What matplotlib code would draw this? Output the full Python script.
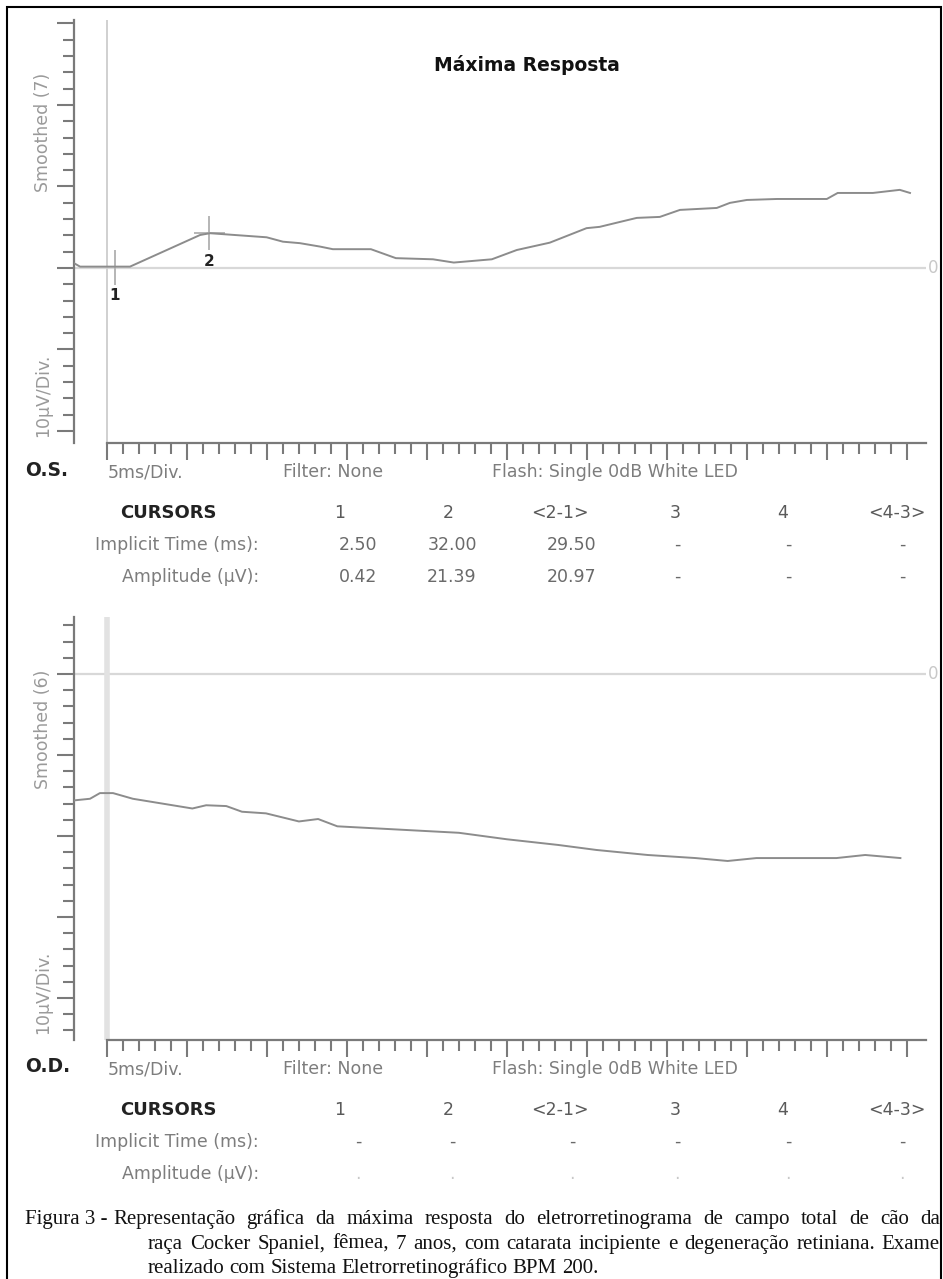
import matplotlib
matplotlib.use("Agg")
import matplotlib.pyplot as plt
from matplotlib.patches import Rectangle
from matplotlib.ticker import MultipleLocator, FixedLocator

W, H = 943, 1279

# ---- values (time in ms, amplitude in uV) ----
os_time = [-10.3, -8.4, 7.2, 29.1, 32.2, 49.9, 55.0, 60.3, 66.6, 70.6, 82.5, 90.3,
           101.9, 108.4, 120.3, 128.1, 138.4, 149.9, 154.0, 160.3, 165.6, 172.8,
           179.1, 190.6, 194.7, 200.0, 209.4, 225.0, 228.4, 239.4, 247.8, 251.0]
os_amp = [2.9, 0.8, 0.8, 20.2, 21.3, 18.8, 16.1, 15.2, 13.1, 11.5, 11.5, 6.0,
          5.3, 3.3, 5.3, 11.0, 15.5, 24.4, 25.2, 28.2, 30.7, 31.3,
          35.6, 36.8, 39.9, 41.7, 42.3, 42.3, 46.0, 46.0, 47.9, 46.0]

od_time = [-10.3, -5.3, -2.2, 1.9, 8.1, 14.3, 20.5, 26.7, 31.0, 37.3, 42.2, 49.7,
           55.9, 60.0, 66.0, 72.0, 91.0, 110.0, 125.0, 141.0, 153.0, 169.0,
           184.0, 194.0, 203.0, 215.0, 228.0, 237.0, 248.0]
od_amp = [-78.0, -77.0, -73.5, -73.5, -77.0, -79.0, -81.0, -83.0, -81.0, -81.5,
          -85.0, -86.0, -89.0, -91.0, -89.5, -94.0, -96.0, -98.0, -102.0, -105.5,
          -108.6, -111.7, -113.6, -115.4, -113.6, -113.6, -113.6, -111.7, -113.6]

os_cursor_time = [2.5, 32.0]
os_cursor_amp = [0.42, 21.39]
os_cursor_names = ["1", "2"]

cursor_cols = ["1", "2", "<2-1>", "3", "4", "<4-3>"]
os_implicit = ["2.50", "32.00", "29.50", "-", "-", "-"]
os_amplitude = ["0.42", "21.39", "20.97", "-", "-", "-"]
od_implicit = ["-", "-", "-", "-", "-", "-"]
od_amplitude = [".", ".", ".", ".", ".", "."]

caption = ["Figura 3 -",
           "Representação gráfica da máxima resposta do eletrorretinograma de campo total de cão da",
           "raça Cocker Spaniel, fêmea, 7 anos, com catarata incipiente e degeneração retiniana. Exame",
           "realizado com Sistema Eletrorretinográfico BPM 200."]

GRAY = "#7d7d7d"
AXC = "#7a7a7a"
plt.rcParams['font.family'] = ['DejaVu Sans']


def fx(px):
    return px / W


def fy(py):
    return 1 - py / H


fig = plt.figure(figsize=(W / 100, H / 100), dpi=100)
# outer frame (its bottom edge falls below the picture)
fig.patches.append(Rectangle((fx(7), fy(1290)), fx(941) - fx(7), (1290 - 7) / H,
                             transform=fig.transFigure, fill=False, ec="black", lw=1.5))


def make_panel(top_px, bot_px, ylim, zero_lw, zero_col):
    ax = fig.add_axes([fx(74), fy(bot_px), fx(926) - fx(74), (bot_px - top_px) / H])
    ax.set_xlim(-10.3, 256)
    ax.set_ylim(*ylim)
    for s in ["top", "right"]:
        ax.spines[s].set_visible(False)
    for s in ["left", "bottom"]:
        ax.spines[s].set_color(AXC)
        ax.spines[s].set_linewidth(1.6)
    ax.spines["bottom"].set_bounds(0, 256)
    ax.xaxis.set_major_locator(FixedLocator(list(range(0, 251, 25))))
    ax.xaxis.set_minor_locator(FixedLocator(list(range(0, 251, 5))))
    ax.yaxis.set_major_locator(MultipleLocator(50))
    ax.yaxis.set_minor_locator(MultipleLocator(10))
    ax.tick_params(which="major", length=12, width=1.5, color=AXC,
                   labelbottom=False, labelleft=False)
    ax.tick_params(which="minor", length=8, width=1.5, color=AXC)
    ax.axhline(0, color="#d8d8d8", lw=1.6, zorder=1)
    ax.axvline(0, color=zero_col, lw=zero_lw, zorder=1)
    ax.annotate("0", xy=(1, 0), xycoords=("axes fraction", "data"), xytext=(1, 0),
                textcoords="offset points", va="center", ha="left",
                color="#c8c8c8", fontsize=12)
    return ax


# ---- O.S. panel ----
ax1 = make_panel(20, 443, (-107.4, 152.1), 1.4, "#d0d0d0")
ax1.plot(os_time, os_amp, color="#8c8c8c", lw=1.4, zorder=3)
for ct, ca, name in zip(os_cursor_time, os_cursor_amp, os_cursor_names):
    ax1.plot([ct, ct], [ca - 10, ca + 10], color="#b5b5b5", lw=1.4, zorder=2)
    ax1.text(ct, ca - 13, name, ha="center", va="top", fontsize=11,
             fontweight="bold", color="#222222")
ax1.plot([os_cursor_time[1] - 4.5, os_cursor_time[1] + 4.5],
         [os_cursor_amp[1], os_cursor_amp[1]], color="#b5b5b5", lw=1.4, zorder=2)

# ---- O.D. panel ----
ax2 = make_panel(617, 1040, (-225.9, 35.2), 4.0, "#e2e2e2")
ax2.plot(od_time, od_amp, color="#8c8c8c", lw=1.4, zorder=3)

fig.text(fx(527), fy(65), "Máxima Resposta", ha="center", va="center",
         fontsize=13.5, fontweight="bold", color="#111111")


def panel_text(dy, name, smooth, implicit, amplitude):
    fig.text(fx(43), fy(132 + dy), smooth, rotation=90, ha="center", va="center",
             fontsize=12.5, color="#9a9a9a")
    fig.text(fx(43), fy(395 + dy), "10µV/Div.", rotation=90, ha="center", va="center",
             fontsize=12.5, color="#9a9a9a")
    fig.text(fx(25), fy(470 + dy), name, ha="left", va="center", fontsize=13.5,
             fontweight="bold", color="#222222")
    fig.text(fx(108), fy(472 + dy), "5ms/Div.", ha="left", va="center",
             fontsize=12.5, color=GRAY)
    fig.text(fx(283), fy(472 + dy), "Filter: None", ha="left", va="center",
             fontsize=12.5, color=GRAY)
    fig.text(fx(492), fy(472 + dy), "Flash: Single 0dB White LED", ha="left",
             va="center", fontsize=12.5, color=GRAY)
    fig.text(fx(168), fy(513 + dy), "CURSORS", ha="center", va="center",
             fontsize=13, fontweight="bold", color="#222222")
    fig.text(fx(259), fy(545 + dy), "Implicit Time (ms):", ha="right", va="center",
             fontsize=12.5, color=GRAY)
    fig.text(fx(259), fy(577 + dy), "Amplitude (µV):", ha="right", va="center",
             fontsize=12.5, color=GRAY)
    head_x = [340, 448, 560, 675, 783, 897]
    val_x = [358, 452, 572, 677, 788, 902]
    for hx, vx, c, v1, v2 in zip(head_x, val_x, cursor_cols, implicit, amplitude):
        fig.text(fx(hx), fy(513 + dy), c, ha="center", va="center", fontsize=12.5,
                 color="#5a5a5a")
        fig.text(fx(vx), fy(545 + dy), v1, ha="center", va="center", fontsize=12.5,
                 color="#6a6a6a")
        fig.text(fx(vx), fy(577 + dy), v2, ha="center", va="center", fontsize=12.5,
                 color="#6a6a6a" if v2 != "." else "#c8c8c8")


panel_text(0, "O.S.", "Smoothed (7)", os_implicit, os_amplitude)
panel_text(597, "O.D.", "Smoothed (6)", od_implicit, od_amplitude)

# ---- caption, justified by hand ----
renderer = fig.canvas.get_renderer()
cap_kw = dict(fontsize=15, family="Liberation Serif", va="baseline", color="#111111")


def justify(line, x0, x1, y, stretch=True):
    words = line.split()
    texts = [fig.text(0, fy(y), w, **cap_kw) for w in words]
    widths = [t.get_window_extent(renderer).width for t in texts]
    if stretch and len(words) > 1:
        gap = (x1 - x0 - sum(widths)) / (len(words) - 1)
    else:
        gap = 5
    x = x0
    for t, w in zip(texts, widths):
        t.set_x(fx(x))
        x += w + gap


fig.text(fx(25), fy(1224), caption[0], **cap_kw)
justify(caption[1], 113, 940, 1224)
justify(caption[2], 148, 940, 1249)
justify(caption[3], 148, 940, 1273, stretch=False)

fig.savefig("out.png", dpi=100)
